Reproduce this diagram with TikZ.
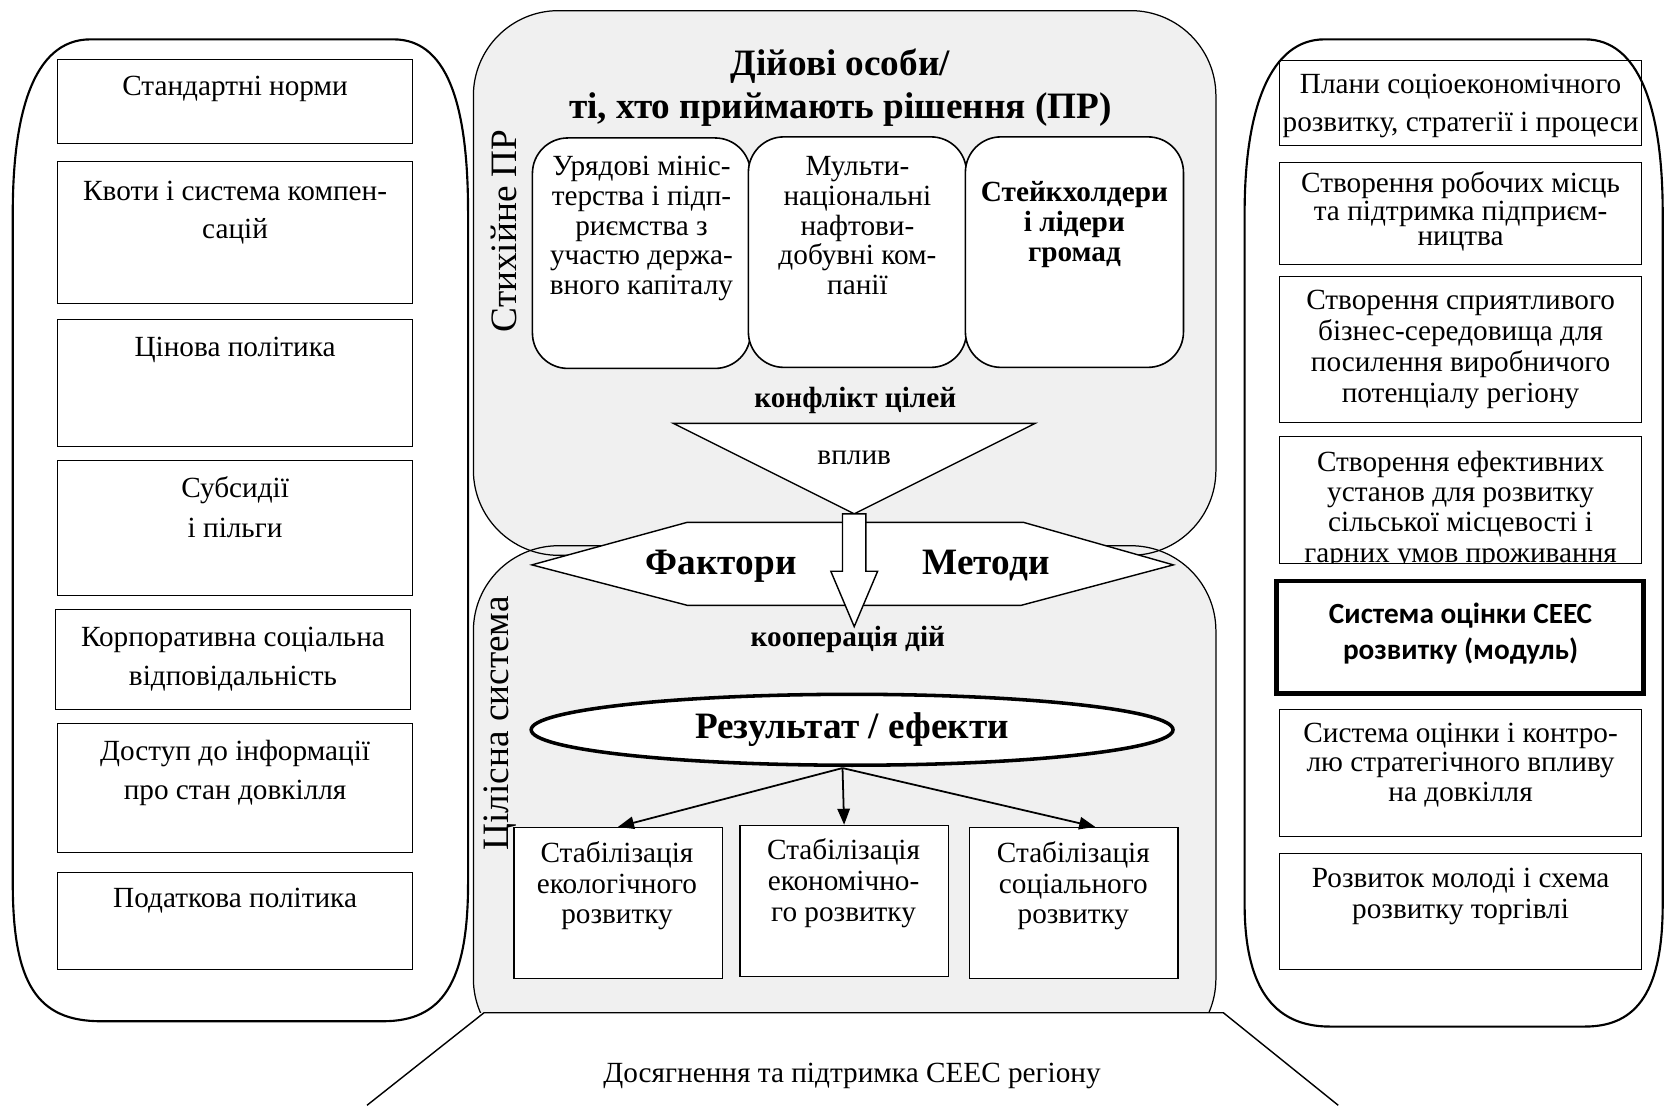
\documentclass[tikz,border=0pt]{standalone}
\usepackage{fontspec}
\setmainfont{Liberation Serif}
\newfontfamily\calfont{Carlito}
\usetikzlibrary{arrows.meta,shapes.geometric,positioning}
\definecolor{panelgray}{RGB}{240,240,240}

\tikzset{
  outline/.style={draw,line width=1.2pt},
  panelline/.style={draw,line width=0.7pt,rounded corners=48pt},
  sidebox/.style={draw,line width=0.6pt,inner sep=0pt},
  lbox/.style={sidebox,minimum width=200.4pt},
  rbox/.style={sidebox,minimum width=204pt},
  actbox/.style={draw,line width=0.9pt,fill=white,rounded corners=20pt,inner sep=0pt,
    minimum width=123pt,minimum height=130pt},
  stabbox/.style={draw,line width=0.9pt,fill=white,inner sep=0pt,
    minimum width=117.6pt,minimum height=85.2pt},
  body/.style={inner sep=0pt,anchor=base,align=center,font=\fontsize{16.5}{#1}\selectfont},
  body/.default=21.6pt,
  bodyb/.style={inner sep=0pt,anchor=base,align=center,font=\bfseries\fontsize{16.5}{#1}\selectfont},
  bodyb/.default=17.1pt,
  big/.style={inner sep=0pt,anchor=base,align=center,font=\bfseries\fontsize{21}{24}\selectfont},
  side/.style={inner sep=0pt,rotate=90,font=\fontsize{21}{24}\selectfont},
}

\begin{document}
\begin{tikzpicture}[x=0.6pt,y=-0.6pt]
\useasboundingbox (0,0) rectangle (1568,1039);

% left column: instruments
\draw[outline] (85,37) -- (370,37) .. controls (425,37) and (440,110) .. (440,200)
  -- (440,830) .. controls (440,925) and (415,960) .. (360,960) -- (95,960)
  .. controls (35,960) and (12,925) .. (12,830) -- (12,200)
  .. controls (12,110) and (30,37) .. (85,37) -- cycle;

\node[lbox,minimum height=47.4pt] (l1) at (221,95.5) {};
\node[lbox,minimum height=79.8pt] (l2) at (221,218.5) {};
\node[lbox,minimum height=72pt] (l3) at (221,360) {};
\node[lbox,minimum height=76.2pt] (l4) at (221,496.5) {};
\node[lbox,minimum height=56.4pt] (l5) at (219,620) {};
\node[lbox,minimum height=72.6pt] (l6) at (221,740.5) {};
\node[lbox,minimum height=54.6pt] (l7) at (221,865.5) {};

% multi-line texts sit on the baseline of their last line
\node[body] (l1t) at (221,90) {Стандартні норми};
\node[body] (l2t) at (221,224) {Квоти і система компен-\\сацій};
\node[body] (l3t) at (221,335) {Цінова політика};
\node[body=22.2pt] (l4t) at (221,505) {Субсидії\\і пільги};
\node[body] (l5t) at (219,644) {Корпоративна соціальна\\відповідальність};
\node[body=22.2pt] (l6t) at (221,752) {Доступ до інформації\\про стан довкілля};
\node[body] (l7t) at (221,853) {Податкова політика};

% right column: programmes
\draw[outline] (1245,37) -- (1490,37) .. controls (1540,37) and (1563,100) .. (1563,200)
  -- (1563,850) .. controls (1563,930) and (1540,965) .. (1490,965) -- (1250,965)
  .. controls (1195,965) and (1170,925) .. (1170,850) -- (1170,200)
  .. controls (1170,100) and (1195,37) .. (1245,37) -- cycle;

\node[rbox,minimum height=48pt] (r1) at (1373,97) {};
\node[rbox,minimum height=57.6pt] (r2) at (1373,201) {};
\node[rbox,minimum height=82.2pt] (r3) at (1373,328.5) {};
\node[rbox,minimum height=72pt] (r4) at (1373,470) {};
\node[rbox,line width=2.4pt,minimum width=207pt,minimum height=63.6pt] (r5) at (1372.5,599) {};
\node[rbox,minimum height=71.4pt] (r6) at (1373,726.5) {};
\node[rbox,minimum height=65.4pt] (r7) at (1373,856.5) {};

\node[body] (r1t) at (1373,124) {Плани соціоекономічного\\розвитку, стратегії і процеси};
\node[body=14.4pt] (r2t) at (1373,231) {Створення робочих місць\\та підтримка підприєм-\\ництва};
\node[body=17.4pt] (r3t) at (1373,378) {Створення сприятливого\\бізнес-середовища для\\посилення виробничого\\потенціалу регіону};
\begin{scope}
  \clip (1203,410) rectangle (1543,530);
  \node[body=17.1pt] (r4t) at (1373,528.5) {Створення ефективних\\установ для розвитку\\сільської місцевості і\\гарних умов проживання};
\end{scope}
\node[body,font=\calfont\bfseries\fontsize{16.5}{20.4}\selectfont] (r5t) at (1373,620) {Система оцінки СЕЕС\\розвитку (модуль)};
\node[body=16.5pt] (r6t) at (1373,753) {Система оцінки і контро-\\лю стратегічного впливу\\на довкілля};
\node[body=17.4pt] (r7t) at (1373,863) {Розвиток молоді і схема\\розвитку торгівлі};

% centre: decision makers and system
\fill[panelgray,rounded corners=48pt] (445,10) rectangle (1143,522);
\begin{scope}
  \clip (0,0) rectangle (1568,952);
  \fill[panelgray,rounded corners=48pt] (445,513) rectangle (1143,1000);
  \draw[panelline] (445,10) rectangle (1143,522);
  \draw[panelline] (445,513) rectangle (1143,1000);
\end{scope}
\draw[line width=0.8pt] (345,1039) -- (455,952) -- (1150,952) -- (1258,1039);

\node[side] (spont) at (474,217) {Стихійне ПР};
\node[side] (whole) at (470,680) {Цілісна система};

\node[big] (title) at (790,111) {Дійові особи/\\ті, хто приймають рішення (ПР)};

\node[actbox] (gov) at (603,238) {};
\node[actbox] (oil) at (806,237) {};
\node[actbox] (lead) at (1010,237) {};
\node[body=16.8pt] (govt) at (603,277) {Урядові мініс-\\терства і підп-\\риємства з\\участю держа-\\вного капіталу};
\node[body=16.8pt] (oilt) at (806,277) {Мульти-\\національні\\нафтови-\\добувні ком-\\панії};
\node[bodyb] (leadt) at (1010,246) {Стейкхолдери\\і лідери\\громад};

\node[bodyb] (conf) at (804,383) {конфлікт цілей};

\draw[line width=0.8pt,fill=white] (500,531) -- (646,491) -- (962,491) -- (1103,531)
  -- (960,569) -- (646,569) -- cycle;
\draw[line width=0.8pt,fill=white] (633,398) -- (973,398) -- (803,483) -- cycle;
\coordinate (apex) at (803,483);
\draw[line width=0.8pt,fill=white] (apex) ++(-11,0) -- ++(22,0) -- ++(0,54) -- ++(11,0)
  -- (803,589) -- ++(-22,-52) -- ++(11,0) -- cycle;

\node[body] (infl) at (803,437) {вплив};
\node[big] (fact) at (678,540) {Фактори};
\node[big] (meth) at (927,540) {Методи};
\node[bodyb] (coop) at (797,608) {кооперація дій};

\node[ellipse,draw,line width=2pt,fill=white,minimum width=362pt,minimum height=40pt,
  inner sep=0pt,font=\bfseries\fontsize{21}{24}\selectfont] (res) at (801,686) {Результат / ефекти};

\node[stabbox] (s1) at (581,849) {};
\node[stabbox] (s2) at (793.5,847) {};
\node[stabbox] (s3) at (1009.5,849) {};
\node[body=17.1pt] (s1t) at (580,868) {Стабілізація\\екологічного\\розвитку};
\node[body=17.4pt] (s2t) at (793,866) {Стабілізація\\економічно-\\го розвитку};
\node[body=17.1pt] (s3t) at (1009,868) {Стабілізація\\соціального\\розвитку};

\coordinate (fork) at (792,722);
\path[-{Triangle[length=9pt,width=7pt]},line width=1pt] (fork) edge (s1.north)
  (fork) edge (s2.north) (fork) edge ([xshift=12pt]s3.north);

\node[body] (goal) at (801,1018) {Досягнення та підтримка СЕЕС регіону};

\end{tikzpicture}
\end{document}
